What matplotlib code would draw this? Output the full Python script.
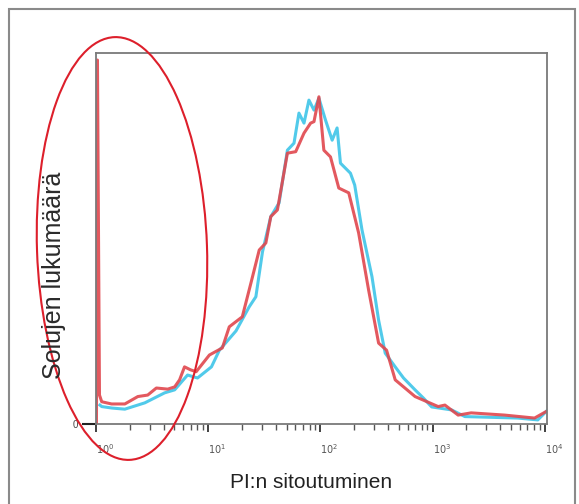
import numpy as np
import matplotlib.pyplot as plt
from matplotlib.patches import Ellipse, Rectangle
from matplotlib.transforms import IdentityTransform
from matplotlib.ticker import NullFormatter

plt.rcParams['font.family'] = ['Liberation Sans', 'DejaVu Sans']

# PI fluorescence (log10) and relative cell counts
red_log = [0.004, 0.013, 0.031, 0.051, 0.139, 0.257, 0.373, 0.461, 0.538, 0.639,
           0.701, 0.745, 0.789, 0.843, 0.893, 1.011, 1.126, 1.188, 1.304, 1.381,
           1.455, 1.514, 1.558, 1.617, 1.706, 1.780, 1.854, 1.913, 1.943, 1.987,
           2.031, 2.090, 2.164, 2.253, 2.341, 2.430, 2.519, 2.590, 2.667, 2.844,
           3.050, 3.110, 3.228, 3.344, 3.643, 3.909, 4.009]
red_count = [0.0, 98.1, 7.8, 6.0, 5.4, 5.4, 7.4, 7.8, 9.7, 9.4,
             10.0, 11.9, 15.4, 14.6, 14.1, 18.6, 20.5, 26.2, 28.9, 38.0,
             46.9, 48.8, 55.9, 57.7, 73.0, 73.4, 78.4, 81.1, 81.5, 88.2,
             73.8, 72.0, 63.6, 62.3, 51.5, 36.1, 21.8, 19.9, 11.9, 7.4,
             4.7, 5.1, 2.4, 3.0, 2.4, 1.6, 3.3]

cyan_log = [0.035, 0.051, 0.142, 0.257, 0.435, 0.612, 0.701, 0.816, 0.905, 1.029,
            1.100, 1.248, 1.366, 1.425, 1.484, 1.558, 1.632, 1.706, 1.765, 1.809,
            1.854, 1.898, 1.943, 1.987, 2.046, 2.105, 2.149, 2.179, 2.268, 2.306,
            2.371, 2.460, 2.519, 2.578, 2.667, 2.741, 2.844, 2.918, 2.992, 3.169,
            3.288, 3.761, 3.938, 4.027]
cyan_count = [5.1, 4.7, 4.3, 4.0, 5.7, 8.4, 9.2, 13.2, 12.4, 15.4,
              19.9, 25.1, 31.6, 34.3, 46.4, 55.9, 59.6, 73.8, 75.7, 83.8,
              81.1, 87.3, 84.6, 87.8, 81.9, 76.5, 79.8, 70.3, 67.6, 64.4,
              52.3, 39.7, 28.0, 19.1, 15.4, 12.4, 9.2, 7.0, 4.6, 3.8,
              2.0, 1.6, 1.1, 3.8]

decades = [1, 10, 100, 1000, 10000]
decade_labels = ['$10^{0}$', '$10^{1}$', '$10^{2}$', '$10^{3}$', '$10^{4}$']

fig = plt.figure(figsize=(5.79, 5.04), dpi=100)
ax = fig.add_axes([96 / 579, 80 / 504, 451 / 579, 371 / 504])

ax.plot(10 ** np.array(cyan_log), cyan_count, color='#3ec5e8', lw=2.2, alpha=0.9)
ax.plot(10 ** np.array(red_log), red_count, color='#e0474e', lw=2.2, alpha=0.9)

ax.set_xscale('log')
ax.set_xlim(1, 10 ** 4.02)
ax.set_ylim(0, 100)

for side in ['top', 'right', 'bottom', 'left']:
    ax.spines[side].set_color('#7a7a7a')
    ax.spines[side].set_linewidth(1.3)

ax.set_xticks(decades, labels=decade_labels)
ax.xaxis.set_minor_formatter(NullFormatter())
ax.tick_params(axis='x', which='major', direction='out', length=6, width=1.3,
               color='#333333', labelsize=7, labelcolor='#555555', pad=7)
ax.tick_params(axis='x', which='minor', direction='out', length=4, width=1,
               color='#555555')
plt.setp(ax.get_xticklabels(), ha='left')

ax.set_yticks([0])
ax.tick_params(axis='y', direction='out', length=10, width=1.5, color='#222222',
               labelsize=7, labelcolor='#444444', pad=3)

fig.text(311 / 579, 22 / 504, 'PI:n sitoutuminen', ha='center', va='center',
         fontsize=15, color='#222222')
fig.text(54 / 579, 229 / 504, 'Solujen lukumäärä', rotation=90, ha='center',
         va='center', fontsize=18, color='#2a2a2a')

# outer frame and highlight ellipse, placed in pixels
frame = Rectangle((9, -20), 566, 515, transform=IdentityTransform(),
                  fill=False, edgecolor='#8a8a8a', lw=1.5)
fig.add_artist(frame)
ring = Ellipse((122, 255.5), 170, 423, angle=2, transform=IdentityTransform(),
               fill=False, edgecolor='#dd1f2b', lw=1.5)
fig.add_artist(ring)

fig.savefig('out.png', dpi=100)
